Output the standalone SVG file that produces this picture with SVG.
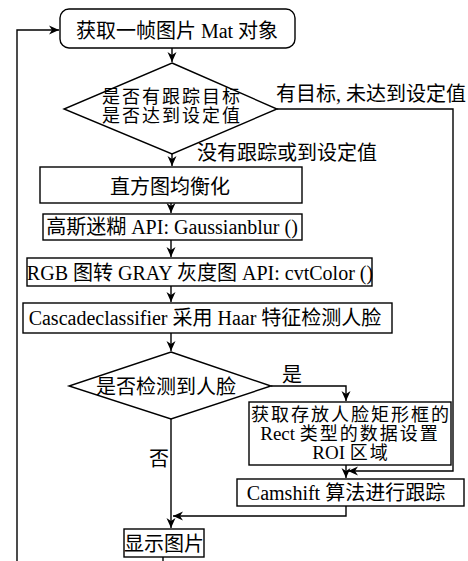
<svg xmlns="http://www.w3.org/2000/svg" width="468" height="561" viewBox="0 0 468 561">
<style>
  .box{fill:#fff;stroke:#000;stroke-width:1.4}
  .ln{fill:none;stroke:#000;stroke-width:1.4}
  text{font-family:"Liberation Serif","Noto Sans CJK SC",serif;font-size:20px;fill:#000}
  .c{text-anchor:middle}
  .s{font-size:18px;letter-spacing:2px}
  .l{font-size:19px;letter-spacing:0}
</style>
<defs>
  <marker id="ah" markerWidth="10" markerHeight="10" refX="10" refY="5" orient="auto" markerUnits="userSpaceOnUse">
    <path d="M0,0.5 L10,5 L0,9.5 L3,5 z" fill="#000"/>
  </marker>
</defs>
<rect width="468" height="561" fill="#fff"/>
<g id="connectors">
  <path class="ln" d="M17,561 V30 H59" marker-end="url(#ah)"/>
  <path class="ln" d="M172,48 V62" marker-end="url(#ah)"/>
  <path class="ln" d="M172,154 V166" marker-end="url(#ah)"/>
  <path class="ln" d="M171,203 V213" marker-end="url(#ah)"/>
  <path class="ln" d="M171,240 V257" marker-end="url(#ah)"/>
  <path class="ln" d="M171,286 V302" marker-end="url(#ah)"/>
  <path class="ln" d="M171,333 V351" marker-end="url(#ah)"/>
  <path class="ln" d="M277,109 H453 V471 H348" marker-end="url(#ah)"/>
  <path class="ln" d="M271,386 H346 V401" marker-end="url(#ah)"/>
  <path class="ln" d="M346,465 V478" marker-end="url(#ah)"/>
  <path class="ln" d="M346,506 V516 H173" marker-end="url(#ah)"/>
  <path class="ln" d="M171,419 V528" marker-end="url(#ah)"/>
  <path class="ln" d="M163,557 V561"/>
  <text x="276" y="101">有目标, 未达到设定值</text>
  <text x="197" y="160">没有跟踪或到设定值</text>
  <text x="282" y="382">是</text>
  <text x="149" y="466">否</text>
</g>
<g id="start">
  <rect class="box" x="60" y="9" width="235" height="39" rx="9"/>
  <text class="c" x="177" y="38">获取一帧图片 Mat 对象</text>
</g>
<g id="decision1">
  <polygon class="box" points="172,63 277,109 172,154 64,109"/>
  <text class="c s" x="172" y="103">是否有跟踪目标</text>
  <text class="c s" x="172" y="122">是否达到设定值</text>
</g>
<g id="histeq">
  <rect class="box" x="40" y="167" width="262" height="36"/>
  <text class="c" x="170" y="194">直方图均衡化</text>
</g>
<g id="gauss">
  <rect class="box" x="43" y="214" width="259" height="26"/>
  <text class="c" x="172" y="234">高斯迷糊 API: Gaussianblur ()</text>
</g>
<g id="gray">
  <rect class="box" x="27" y="258" width="345" height="28"/>
  <text class="c" x="200" y="280">RGB 图转 GRAY 灰度图 API: cvtColor ()</text>
</g>
<g id="cascade">
  <rect class="box" x="23" y="303" width="369" height="30"/>
  <text class="c" x="205" y="325">Cascadeclassifier 采用 Haar 特征检测人脸</text>
</g>
<g id="decision2">
  <polygon class="box" points="171,352 271,386 171,419 69,386"/>
  <text class="c" x="166" y="394">是否检测到人脸</text>
</g>
<g id="roi">
  <rect class="box" x="249" y="402" width="202" height="63"/>
  <text class="c s" x="351" y="421">获取存放人脸矩形框的</text>
  <text class="c s" x="350" y="440"><tspan class="l">Rect </tspan>类型的数据设置</text>
  <text class="c s" x="351" y="459"><tspan class="l">ROI </tspan>区域</text>
</g>
<g id="camshift">
  <rect class="box" x="237" y="479" width="227" height="27"/>
  <text class="c" x="346" y="500">Camshift 算法进行跟踪</text>
</g>
<g id="show">
  <rect class="box" x="124" y="529" width="80" height="28"/>
  <text class="c" x="164" y="551">显示图片</text>
</g>
</svg>
